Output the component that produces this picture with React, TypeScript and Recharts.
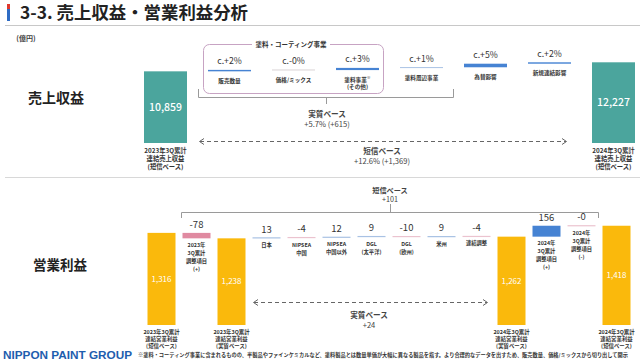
import React from 'react';
import { BarChart, Bar, XAxis, YAxis } from 'recharts';

const FONT = '"Noto Sans CJK JP", "Noto Sans", sans-serif';

// ---- 売上収益 (revenue bridge, 億円) ----
const salesCategories = ['2023年3Q累計', '販売数量', '価格/ミックス', '塗料事業(その他)', '塗料周辺事業', '為替影響', '新規連結影響', '2024年3Q累計'];
const salesValues = [10859, 220, -30, 330, 95, 540, 213, 12227];
const salesIsTotal = [true, false, false, false, false, false, false, true];
const salesValueLabels = ['10,859', 'c.+2%', 'c.-0%', 'c.+3%', 'c.+1%', 'c.+5%', 'c.+2%', '12,227'];
const salesNameLines = [
  ['2023年3Q累計', '連結売上収益', '(短信ベース)'],
  ['販売数量'],
  ['価格/ミックス'],
  ['塗料事業※', '(その他)'],
  ['塗料周辺事業'],
  ['為替影響'],
  ['新規連結影響'],
  ['2024年3Q累計', '連結売上収益', '(短信ベース)'],
];

// ---- 営業利益 (operating profit bridge, 億円) ----
const profitCategories = ['2023年3Q累計(短信)', '2023年調整項目', '2023年3Q累計(実質)', '日本', 'NIPSEA中国', 'NIPSEA中国以外', 'DGL(太平洋)', 'DGL(欧州)', '米州', '連結調整', '2024年3Q累計(実質)', '2024年調整項目(+)', '2024年調整項目(-)', '2024年3Q累計(短信)'];
const profitValues = [1316, -78, 1238, 13, -4, 12, 9, -10, 9, -4, 1262, 156, -0.3, 1418];
const profitIsTotal = [true, false, true, false, false, false, false, false, false, false, true, false, false, true];
const profitValueLabels = ['1,316', '-78', '1,238', '13', '-4', '12', '9', '-10', '9', '-4', '1,262', '156', '-0', '1,418'];
const profitNameLines = [
  ['2023年3Q累計', '連結営業利益', '(短信ベース)'],
  ['2023年', '3Q累計', '調整項目', '(+)'],
  ['2023年3Q累計', '連結営業利益', '(実質ベース)'],
  ['日本'],
  ['NIPSEA', '中国'],
  ['NIPSEA', '中国以外'],
  ['DGL', '(太平洋)'],
  ['DGL', '(欧州)'],
  ['米州'],
  ['連結調整'],
  ['2024年3Q累計', '連結営業利益', '(実質ベース)'],
  ['2024年', '3Q累計', '調整項目', '(+)'],
  ['2024年', '3Q累計', '調整項目', '(-)'],
  ['2024年3Q累計', '連結営業利益', '(短信ベース)'],
];

function buildRows(cats: string[], vals: number[], totals: boolean[], vlabels: string[], names: string[][]) {
  let cum = 0;
  return cats.map((c, i) => {
    const v = vals[i];
    let range: number[];
    if (totals[i]) {
      cum = v;
      range = [0, v];
    } else {
      const s = cum;
      cum = cum + v;
      range = [Math.min(s, cum), Math.max(s, cum)];
    }
    return { name: c, range, delta: v, total: totals[i], valueLabel: vlabels[i], lines: names[i] };
  });
}

const salesRows = buildRows(salesCategories, salesValues, salesIsTotal, salesValueLabels, salesNameLines);
const profitRows = buildRows(profitCategories, profitValues, profitIsTotal, profitValueLabels, profitNameLines);

const TEAL = '#4BA59D';
const GOLD = '#FAB90C';
const BLUE = '#4683D3';
const PINK = '#E08AA1';
const BLUE_LIGHT = '#A9C2E4';
const PINK_LIGHT = '#EBC3CF';

function TextLine({ x, y, text, size, weight = 400, fill = '#333' }: any) {
  if (text.endsWith('※')) {
    return (
      <text x={x} y={y} dy="0.35em" textAnchor="middle" fontSize={size} fontWeight={weight} fill={fill} fontFamily={FONT}>
        {text.slice(0, -1)}
        <tspan fontSize={size * 0.7} dy={-size * 0.45}>※</tspan>
      </text>
    );
  }
  return (
    <text x={x} y={y} dy="0.35em" textAnchor="middle" fontSize={size} fontWeight={weight} fill={fill} fontFamily={FONT}>
      {text}
    </text>
  );
}

function norm(props: any) {
  let { x, y, width, height } = props;
  if (height < 0) {
    y = y + height;
    height = -height;
  }
  return { x, y, width, height };
}

function SalesShape(props: any) {
  const { payload } = props;
  const { x, y, width, height } = norm(props);
  const cx = x + width / 2;
  if (payload.total) {
    return (
      <g>
        <rect x={x} y={y} width={width} height={height} fill={TEAL} />
        <TextLine x={cx} y={y + height / 2} text={payload.valueLabel} size={10.5} weight={500} fill="#fff" />
        {payload.lines.map((l: string, i: number) => (
          <TextLine key={i} x={cx} y={y + height + 7.5 + 8 * i} text={l} size={6.3} weight={700} fill="#333" />
        ))}
      </g>
    );
  }
  const thin = height < 1;
  const color = payload.delta >= 0 ? (thin ? BLUE_LIGHT : BLUE) : '#D9D4D6';
  const c = y + height / 2;
  const h = Math.max(height, 1);
  const top = c - h / 2;
  return (
    <g>
      <rect x={x} y={top} width={width} height={h} fill={color} />
      <TextLine x={cx} y={top - 8.5} text={payload.valueLabel} size={8.7} fill="#333" />
      {payload.lines.map((l: string, i: number) => (
        <TextLine key={i} x={cx} y={top + h + 9.5 + 7.2 * i} text={l} size={5.6} weight={700} fill="#333" />
      ))}
    </g>
  );
}

function ProfitShape(props: any) {
  const { payload } = props;
  const { x, y, width, height } = norm(props);
  const cx = x + width / 2;
  if (payload.total) {
    return (
      <g>
        <rect x={x} y={y} width={width} height={height} fill={GOLD} />
        <TextLine x={cx} y={y + height / 2} text={payload.valueLabel} size={8} weight={400} fill="#fff" />
        {payload.lines.map((l: string, i: number) => (
          <TextLine key={i} x={cx} y={y + height + 7 + 7.2 * i} text={l} size={5.4} weight={700} fill="#333" />
        ))}
      </g>
    );
  }
  const thin = height < 2;
  const color = payload.delta >= 0 ? (thin ? BLUE_LIGHT : BLUE) : thin ? PINK_LIGHT : PINK;
  const c = y + height / 2;
  const h = Math.max(height, 1.2);
  const top = c - h / 2;
  return (
    <g>
      <rect x={x} y={top} width={width} height={h} fill={color} />
      <TextLine x={cx} y={top - 8} text={payload.valueLabel} size={9.5} fill="#333" />
      {payload.lines.map((l: string, i: number) => (
        <TextLine key={i} x={cx} y={top + h + 6.5 + 8 * i} text={l} size={5.3} weight={700} fill="#333" />
      ))}
    </g>
  );
}

function Overlay() {
  const t = (x: number, y: number, s: string, size: number, weight = 400, fill = '#333') => (
    <text x={x} y={y} dy="0.35em" textAnchor="middle" fontSize={size} fontWeight={weight} fill={fill} fontFamily={FONT}>
      {s}
    </text>
  );
  return (
    <svg width={640} height={363} style={{ position: 'absolute', left: 0, top: 0 }}>
      <rect x={0} y={0} width={640} height={363} fill="#fff" />
      {/* title */}
      <rect x={7} y={4} width={3} height={5} fill="#E0392E" />
      <rect x={7} y={9} width={3} height={12} fill="#2F6CC4" />
      <text x={20} y={19} fontSize={17} fontWeight={700} fill="#222" fontFamily={FONT} textLength={228} lengthAdjust="spacingAndGlyphs">
        3-3. 売上収益・営業利益分析
      </text>
      <line x1={5} y1={25.5} x2={640} y2={25.5} stroke="#C8C8C8" strokeWidth={1} />
      {t(26, 39, '(億円)', 7, 700, '#444')}
      {t(56, 98, '売上収益', 14, 700, '#222')}
      {t(60, 265, '営業利益', 13.5, 700, '#222')}
      {/* 塗料・コーティング事業 box */}
      <rect x={203.5} y={44.5} width={180} height={49} rx={6} fill="none" stroke="#C7A3C3" strokeWidth={1} />
      <rect x={252} y={40} width={78} height={9} fill="#fff" />
      {t(291, 45, '塗料・コーティング事業', 6.5, 700, '#333')}
      {/* 実質ベース bracket (revenue) */}
      <path d="M198.5,89 V97.5 H453.5 V89 M326.5,97.5 V104" fill="none" stroke="#9A9A9A" strokeWidth={1} />
      {t(327, 114.5, '実質ベース', 7.6, 700, '#444')}
      {t(327, 124, '+5.7% (+615)', 7.6, 400, '#444')}
      {/* 短信ベース dashed arrow (revenue) */}
      <line x1={200} y1={141.5} x2={566} y2={141.5} stroke="#666" strokeWidth={1} strokeDasharray="4 3" />
      <path d="M204,138.5 L199.5,141.5 L204,144.5 M562,138.5 L566.5,141.5 L562,144.5" fill="none" stroke="#666" strokeWidth={1} />
      {t(382, 151.5, '短信ベース', 7.6, 700, '#444')}
      {t(382, 161, '+12.6% (+1,369)', 7.6, 400, '#444')}
      {/* separator */}
      <line x1={5} y1={177.5} x2={640} y2={177.5} stroke="#D8D8D8" strokeWidth={1} />
      {/* 短信ベース bracket (profit) */}
      <path d="M181.5,218 V212.5 H598.5 V218 M390.5,212.5 V204" fill="none" stroke="#9A9A9A" strokeWidth={1} />
      {t(390, 190.5, '短信ベース', 7.2, 700, '#444')}
      {t(390, 199.5, '+101', 7.2, 400, '#444')}
      {/* 実質ベース dashed arrow (profit) */}
      <line x1={254} y1={302.5} x2={487} y2={302.5} stroke="#666" strokeWidth={1} strokeDasharray="4 3" />
      <path d="M258,299.5 L253.5,302.5 L258,305.5 M483,299.5 L487.5,302.5 L483,305.5" fill="none" stroke="#666" strokeWidth={1} />
      {t(369, 315.5, '実質ベース', 7.6, 700, '#444')}
      {t(369, 325, '+24', 7.6, 400, '#444')}
      {/* footer */}
      <text x={3} y={359} fontSize={11.5} fontWeight={700} fill="#1E5DAE" fontFamily='"Liberation Sans", Arial, sans-serif' textLength={129} lengthAdjust="spacingAndGlyphs">
        NIPPON PAINT GROUP
      </text>
      <text x={138} y={355} dy="0.35em" fontSize={5.2} fontWeight={700} fill="#333" fontFamily={FONT} textLength={490} lengthAdjust="spacingAndGlyphs">
        ※塗料・コーティング事業に含まれるものの、半製品やファインケミカルなど、塗料製品とは数量単価が大幅に異なる製品を指す。より合理的なデータを出すため、販売数量、価格/ミックスから切り出して開示
      </text>
    </svg>
  );
}

export default function App() {
  return (
    <div style={{ position: 'absolute', left: 0, top: 0, width: 640, height: 363, overflow: 'hidden', background: '#fff' }}>
      <Overlay />
      <div style={{ position: 'absolute', left: 0, top: 0 }}>
        <BarChart width={660} height={180} data={salesRows} margin={{ top: 11, right: 15, bottom: 37, left: 133 }}>
          <XAxis dataKey="name" hide />
          <YAxis hide domain={[0, 20000]} />
          <Bar dataKey="range" barSize={43} isAnimationActive={false} shape={SalesShape} />
        </BarChart>
      </div>
      <div style={{ position: 'absolute', left: 0, top: 0 }}>
        <BarChart width={640} height={363} data={profitRows} margin={{ top: 185, right: 6.5, bottom: 38, left: 143.5 }}>
          <XAxis dataKey="name" hide />
          <YAxis hide domain={[0, 2000]} />
          <Bar dataKey="range" barSize={28} isAnimationActive={false} shape={ProfitShape} />
        </BarChart>
      </div>
    </div>
  );
}
